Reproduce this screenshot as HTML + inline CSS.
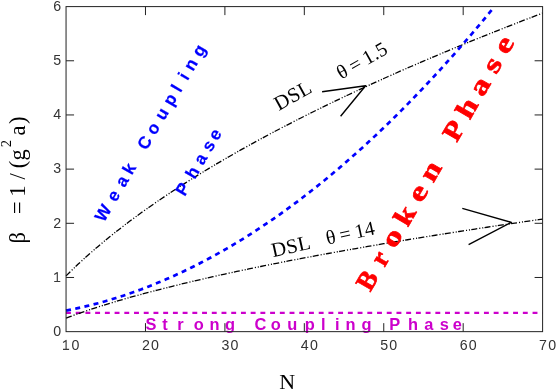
<!DOCTYPE html>
<html><head><meta charset="utf-8"><title>Phase diagram</title>
<style>
html,body{margin:0;padding:0;background:#fff;}
body{width:556px;height:390px;overflow:hidden;font-family:"Liberation Sans",sans-serif;}
svg{display:block;will-change:transform;}
.fr{fill:none;stroke:#222;stroke-width:1;}
.tk{fill:none;stroke:#222;stroke-width:1;}
.dd{fill:none;stroke:#000;stroke-width:1.3;stroke-dasharray:6 2 1.1 1.9 1.1 1.3;}
.bl{fill:none;stroke:#0000ff;stroke-width:2.7;stroke-dasharray:5 4.4;}
.mg{fill:none;stroke:#cc00cc;stroke-width:2.2;stroke-dasharray:4.9 4.82;}
.ar{fill:none;stroke:#000;stroke-width:1.4;stroke-linecap:butt;stroke-linejoin:round;}
.tl{font-family:"Liberation Sans",sans-serif;font-size:14.2px;fill:#333;letter-spacing:1.2px;}
.on{fill:none;stroke:#3a3a3a;stroke-width:1.15;stroke-linejoin:round;}
.se{font-family:"Liberation Serif",serif;fill:#000;}
.bb{font-family:"Liberation Sans",sans-serif;font-weight:bold;font-size:17.2px;fill:#0000ff;stroke:#0000ff;stroke-width:0.2px;text-anchor:middle;}
.mb{font-family:"Liberation Sans",sans-serif;font-weight:bold;font-size:16.4px;fill:#cc00cc;text-anchor:middle;}
.rg path{fill:none;stroke:#ff0000;stroke-linecap:round;stroke-linejoin:round;}
.rg path.q{stroke-linecap:square;}
.rs text{font-family:"Liberation Serif",serif;font-weight:bold;font-size:26.8px;fill:#ff0000;stroke:#ff0000;stroke-width:0.7px;stroke-linejoin:round;text-anchor:middle;}
.rb{font-family:"Liberation Mono",monospace;font-weight:bold;font-size:26px;fill:#ff0000;text-anchor:middle;}
</style></head><body>
<svg width="556" height="390" viewBox="0 0 556 390">
<rect x="0" y="0" width="556" height="390" fill="#fff"/>
<path d="M66.0 312.9 H542.6" class="mg"/>
<path d="M66.05 275.89 L70.02 271.95 L73.99 268.10 L77.96 264.33 L81.94 260.65 L85.91 257.04 L89.88 253.51 L93.85 250.04 L97.82 246.64 L101.79 243.29 L105.76 240.01 L109.73 236.77 L113.70 233.59 L117.68 230.46 L121.65 227.38 L125.62 224.34 L129.59 221.34 L133.56 218.39 L137.53 215.47 L141.50 212.59 L145.47 209.75 L149.45 206.95 L153.42 204.18 L157.39 201.44 L161.36 198.73 L165.33 196.06 L169.30 193.41 L173.27 190.79 L177.25 188.20 L181.22 185.64 L185.19 183.10 L189.16 180.59 L193.13 178.10 L197.10 175.64 L201.07 173.20 L205.04 170.78 L209.01 168.38 L212.99 166.01 L216.96 163.65 L220.93 161.32 L224.90 159.01 L228.87 156.71 L232.84 154.44 L236.81 152.18 L240.79 149.94 L244.76 147.71 L248.73 145.51 L252.70 143.32 L256.67 141.15 L260.64 138.99 L264.61 136.85 L268.58 134.72 L272.56 132.61 L276.53 130.51 L280.50 128.43 L284.47 126.36 L288.44 124.31 L292.41 122.27 L296.38 120.24 L300.35 118.23 L304.32 116.22 L308.30 114.23 L312.27 112.26 L316.24 110.29 L320.21 108.34 L324.18 106.40 L328.15 104.47 L332.12 102.55 L336.10 100.64 L340.07 98.74 L344.04 96.85 L348.01 94.98 L351.98 93.11 L355.95 91.25 L359.92 89.41 L363.89 87.57 L367.87 85.75 L371.84 83.93 L375.81 82.12 L379.78 80.32 L383.75 78.53 L387.72 76.75 L391.69 74.98 L395.66 73.22 L399.64 71.46 L403.61 69.71 L407.58 67.98 L411.55 66.25 L415.52 64.53 L419.49 62.81 L423.46 61.11 L427.43 59.41 L431.40 57.72 L435.38 56.03 L439.35 54.36 L443.32 52.69 L447.29 51.03 L451.26 49.37 L455.23 47.73 L459.20 46.09 L463.18 44.46 L467.15 42.83 L471.12 41.21 L475.09 39.60 L479.06 37.99 L483.03 36.39 L487.00 34.80 L490.97 33.21 L494.95 31.63 L498.92 30.05 L502.89 28.49 L506.86 26.92 L510.83 25.37 L514.80 23.82 L518.77 22.27 L522.74 20.73 L526.72 19.20 L530.69 17.67 L534.66 16.15 L538.63 14.63 L542.60 13.12" class="dd"/>
<path d="M66.05 318.11 L70.02 316.62 L73.99 315.17 L77.96 313.75 L81.94 312.36 L85.91 311.00 L89.88 309.67 L93.85 308.36 L97.82 307.08 L101.79 305.82 L105.76 304.58 L109.73 303.36 L113.70 302.16 L117.68 300.98 L121.65 299.82 L125.62 298.68 L129.59 297.55 L133.56 296.43 L137.53 295.34 L141.50 294.25 L145.47 293.18 L149.45 292.12 L153.42 291.08 L157.39 290.05 L161.36 289.03 L165.33 288.02 L169.30 287.02 L173.27 286.03 L177.25 285.06 L181.22 284.09 L185.19 283.14 L189.16 282.19 L193.13 281.25 L197.10 280.32 L201.07 279.40 L205.04 278.49 L209.01 277.59 L212.99 276.69 L216.96 275.81 L220.93 274.93 L224.90 274.06 L228.87 273.19 L232.84 272.33 L236.81 271.48 L240.79 270.64 L244.76 269.80 L248.73 268.97 L252.70 268.14 L256.67 267.32 L260.64 266.51 L264.61 265.70 L268.58 264.90 L272.56 264.11 L276.53 263.32 L280.50 262.53 L284.47 261.75 L288.44 260.98 L292.41 260.21 L296.38 259.45 L300.35 258.69 L304.32 257.93 L308.30 257.18 L312.27 256.44 L316.24 255.70 L320.21 254.96 L324.18 254.23 L328.15 253.50 L332.12 252.78 L336.10 252.06 L340.07 251.34 L344.04 250.63 L348.01 249.92 L351.98 249.22 L355.95 248.52 L359.92 247.83 L363.89 247.13 L367.87 246.45 L371.84 245.76 L375.81 245.08 L379.78 244.40 L383.75 243.73 L387.72 243.06 L391.69 242.39 L395.66 241.72 L399.64 241.06 L403.61 240.40 L407.58 239.75 L411.55 239.10 L415.52 238.45 L419.49 237.80 L423.46 237.16 L427.43 236.52 L431.40 235.88 L435.38 235.25 L439.35 234.62 L443.32 233.99 L447.29 233.36 L451.26 232.74 L455.23 232.12 L459.20 231.50 L463.18 230.88 L467.15 230.27 L471.12 229.66 L475.09 229.05 L479.06 228.45 L483.03 227.85 L487.00 227.24 L490.97 226.65 L494.95 226.05 L498.92 225.46 L502.89 224.87 L506.86 224.28 L510.83 223.69 L514.80 223.11 L518.77 222.52 L522.74 221.94 L526.72 221.37 L530.69 220.79 L534.66 220.22 L538.63 219.64 L542.60 219.08" class="dd"/>
<path d="M66.05 310.59 L69.62 309.89 L73.19 309.16 L76.76 308.40 L80.33 307.61 L83.90 306.78 L87.47 305.93 L91.04 305.04 L94.61 304.13 L98.18 303.18 L101.75 302.20 L105.32 301.19 L108.89 300.15 L112.46 299.08 L116.03 297.98 L119.61 296.85 L123.18 295.69 L126.75 294.49 L130.32 293.27 L133.89 292.01 L137.46 290.73 L141.03 289.41 L144.60 288.07 L148.17 286.69 L151.74 285.28 L155.31 283.84 L158.88 282.37 L162.45 280.87 L166.02 279.33 L169.59 277.77 L173.16 276.18 L176.73 274.55 L180.30 272.90 L183.87 271.21 L187.44 269.49 L191.01 267.75 L194.58 265.97 L198.15 264.16 L201.72 262.32 L205.29 260.45 L208.86 258.54 L212.43 256.61 L216.00 254.65 L219.58 252.65 L223.15 250.63 L226.72 248.57 L230.29 246.49 L233.86 244.37 L237.43 242.22 L241.00 240.04 L244.57 237.83 L248.14 235.59 L251.71 233.32 L255.28 231.02 L258.85 228.68 L262.42 226.32 L265.99 223.93 L269.56 221.50 L273.13 219.04 L276.70 216.56 L280.27 214.04 L283.84 211.49 L287.41 208.91 L290.98 206.30 L294.55 203.66 L298.12 200.99 L301.69 198.28 L305.26 195.55 L308.83 192.79 L312.40 189.99 L315.97 187.17 L319.55 184.31 L323.12 181.42 L326.69 178.50 L330.26 175.55 L333.83 172.57 L337.40 169.56 L340.97 166.52 L344.54 163.45 L348.11 160.35 L351.68 157.21 L355.25 154.05 L358.82 150.85 L362.39 147.63 L365.96 144.37 L369.53 141.08 L373.10 137.76 L376.67 134.41 L380.24 131.03 L383.81 127.62 L387.38 124.18 L390.95 120.71 L394.52 117.20 L398.09 113.67 L401.66 110.10 L405.23 106.51 L408.80 102.88 L412.37 99.22 L415.94 95.54 L419.52 91.82 L423.09 88.07 L426.66 84.29 L430.23 80.47 L433.80 76.63 L437.37 72.76 L440.94 68.86 L444.51 64.92 L448.08 60.95 L451.65 56.96 L455.22 52.93 L458.79 48.87 L462.36 44.78 L465.93 40.67 L469.50 36.51 L473.07 32.33 L476.64 28.12 L480.21 23.88 L483.78 19.61 L487.35 15.30 L490.92 10.97 L494.49 6.60" class="bl"/>
<path d="M63.10 342.40 L66.10 340.40 V349.30 M63.00 349.30 H69.10" class="on"/>
<text transform="translate(71.55,349.7)" class="tl">0</text>
<text transform="translate(62.45,335.9)" class="tl" text-anchor="end">0</text>
<text transform="translate(151.07,349.7)" class="tl" text-anchor="middle">20</text>
<path d="M54.30 274.60 L57.30 272.60 V281.50 M54.20 281.50 H60.30" class="on"/>
<text transform="translate(230.50,349.7)" class="tl" text-anchor="middle">30</text>
<text transform="translate(62.45,227.6)" class="tl" text-anchor="end">2</text>
<text transform="translate(309.93,349.7)" class="tl" text-anchor="middle">40</text>
<text transform="translate(62.45,173.4)" class="tl" text-anchor="end">3</text>
<text transform="translate(389.35,349.7)" class="tl" text-anchor="middle">50</text>
<text transform="translate(62.45,119.3)" class="tl" text-anchor="end">4</text>
<text transform="translate(468.78,349.7)" class="tl" text-anchor="middle">60</text>
<text transform="translate(62.45,65.1)" class="tl" text-anchor="end">5</text>
<text transform="translate(548.20,349.7)" class="tl" text-anchor="middle">70</text>
<text transform="translate(62.45,10.9)" class="tl" text-anchor="end">6</text>
<text x="279.2" y="389.4" class="se" font-size="22">N</text>
<text class="se" font-size="22.5" text-anchor="middle" transform="translate(25.1,237.7) rotate(-90)">β</text>
<text class="se" font-size="22.5" text-anchor="middle" transform="translate(25.1,207.6) rotate(-90)">=</text>
<text class="se" font-size="22.5" text-anchor="middle" transform="translate(25.1,191.0) rotate(-90)">1</text>
<text class="se" font-size="22.5" text-anchor="middle" transform="translate(25.1,176.3) rotate(-90)">/</text>
<text class="se" font-size="22.5" text-anchor="middle" transform="translate(25.1,164.4) rotate(-90)">(</text>
<text class="se" font-size="22.5" text-anchor="middle" transform="translate(25.1,154.8) rotate(-90)">g</text>
<text class="se" font-size="14.5" text-anchor="middle" transform="translate(10.9,143.6) rotate(-90)">2</text>
<text class="se" font-size="22.5" text-anchor="middle" transform="translate(25.1,130.5) rotate(-90)">a</text>
<text class="se" font-size="22.5" text-anchor="middle" transform="translate(25.1,120.3) rotate(-90)">)</text>
<path d="M322.1 91.8 L365.6 85.7 L340.6 116.2" class="ar"/>
<path d="M462.3 208.4 L511.4 222.3 L468.6 244.7" class="ar"/>
<text class="se" font-size="20.5" letter-spacing="0.4" transform="translate(278.7,110.9) rotate(-29)">DSL</text>
<text class="se" font-size="20" transform="translate(341.3,79.8) rotate(-29.5)" word-spacing="-0.6">θ = 1.5</text>
<text class="se" font-size="20.5" letter-spacing="0.4" transform="translate(273,257.2) rotate(-12.5)">DSL</text>
<text class="se" font-size="20" transform="translate(327.4,244.8) rotate(-12.5)" word-spacing="-0.7">θ = 14</text>
<g transform="translate(0.0,330.3) rotate(0.0)"><text class="mb" x="150.9" y="0">S</text><text class="mb" x="165.0" y="0">t</text><text class="mb" x="180.5" y="0">r</text><text class="mb" x="198.7" y="0">o</text><text class="mb" x="214.6" y="0">n</text><text class="mb" x="230.0" y="0">g</text><text class="mb" x="260.5" y="0">C</text><text class="mb" x="275.8" y="0">o</text><text class="mb" x="292.2" y="0">u</text><text class="mb" x="309.7" y="0">p</text><text class="mb" x="323.4" y="0">l</text><text class="mb" x="337.4" y="0">i</text><text class="mb" x="350.4" y="0">n</text><text class="mb" x="366.5" y="0">g</text><text class="mb" x="394.6" y="0">P</text><text class="mb" x="413.1" y="0">h</text><text class="mb" x="428.8" y="0">a</text><text class="mb" x="444.3" y="0">s</text><text class="mb" x="457.2" y="0">e</text></g>
<g transform="translate(108.2,215.9) rotate(-59.5)"><text class="bb" x="0.0" y="0">W</text><text class="bb" x="20.0" y="0">e</text><text class="bb" x="36.9" y="0">a</text><text class="bb" x="51.4" y="0">k</text><text class="bb" x="81.6" y="0">C</text><text class="bb" x="98.1" y="0">o</text><text class="bb" x="115.0" y="0">u</text><text class="bb" x="131.6" y="0">p</text><text class="bb" x="144.8" y="0">l</text><text class="bb" x="158.7" y="0">i</text><text class="bb" x="172.3" y="0">n</text><text class="bb" x="188.6" y="0">g</text></g>
<g transform="translate(188.1,191.4) rotate(-59.5)"><text class="bb" x="-0.8" y="0">P</text><text class="bb" x="18.5" y="0">h</text><text class="bb" x="34.2" y="0">a</text><text class="bb" x="49.7" y="0">s</text><text class="bb" x="62.6" y="0">e</text></g>
<g transform="translate(370.46,291.92) rotate(-59.9)" class="rs"><text transform="translate(8.35,0) scale(1.000,1)" x="0" y="0">B</text><text transform="translate(33.90,0) scale(0.980,1)" x="0" y="0">r</text><text transform="translate(57.80,0) scale(1.300,1)" x="0" y="0">o</text><text transform="translate(83.35,0) scale(1.220,1)" x="0" y="0">k</text><text transform="translate(109.30,0) scale(1.310,1)" x="0" y="0">e</text><text transform="translate(134.70,0) scale(1.250,1)" x="0" y="0">n</text><text transform="translate(181.40,0) scale(1.130,1)" x="0" y="0">P</text><text transform="translate(207.50,0) scale(1.250,1)" x="0" y="0">h</text><text transform="translate(232.90,0) scale(1.250,1)" x="0" y="0">a</text><text transform="translate(257.60,0) scale(1.300,1)" x="0" y="0">s</text><text transform="translate(280.70,0) scale(1.300,1)" x="0" y="0">e</text></g>
<rect x="66.05" y="6.60" width="476.55" height="325.05" class="fr"/>
<path d="M145.47 331.65 v-8.5 M145.47 6.60 v8.5 M66.05 277.47 h8 M542.60 277.47 h-8 M224.90 331.65 v-8.5 M224.90 6.60 v8.5 M66.05 223.30 h8 M542.60 223.30 h-8 M304.32 331.65 v-8.5 M304.32 6.60 v8.5 M66.05 169.12 h8 M542.60 169.12 h-8 M383.75 331.65 v-8.5 M383.75 6.60 v8.5 M66.05 114.95 h8 M542.60 114.95 h-8 M463.18 331.65 v-8.5 M463.18 6.60 v8.5 M66.05 60.78 h8 M542.60 60.78 h-8" class="tk"/>
</svg></body></html>
